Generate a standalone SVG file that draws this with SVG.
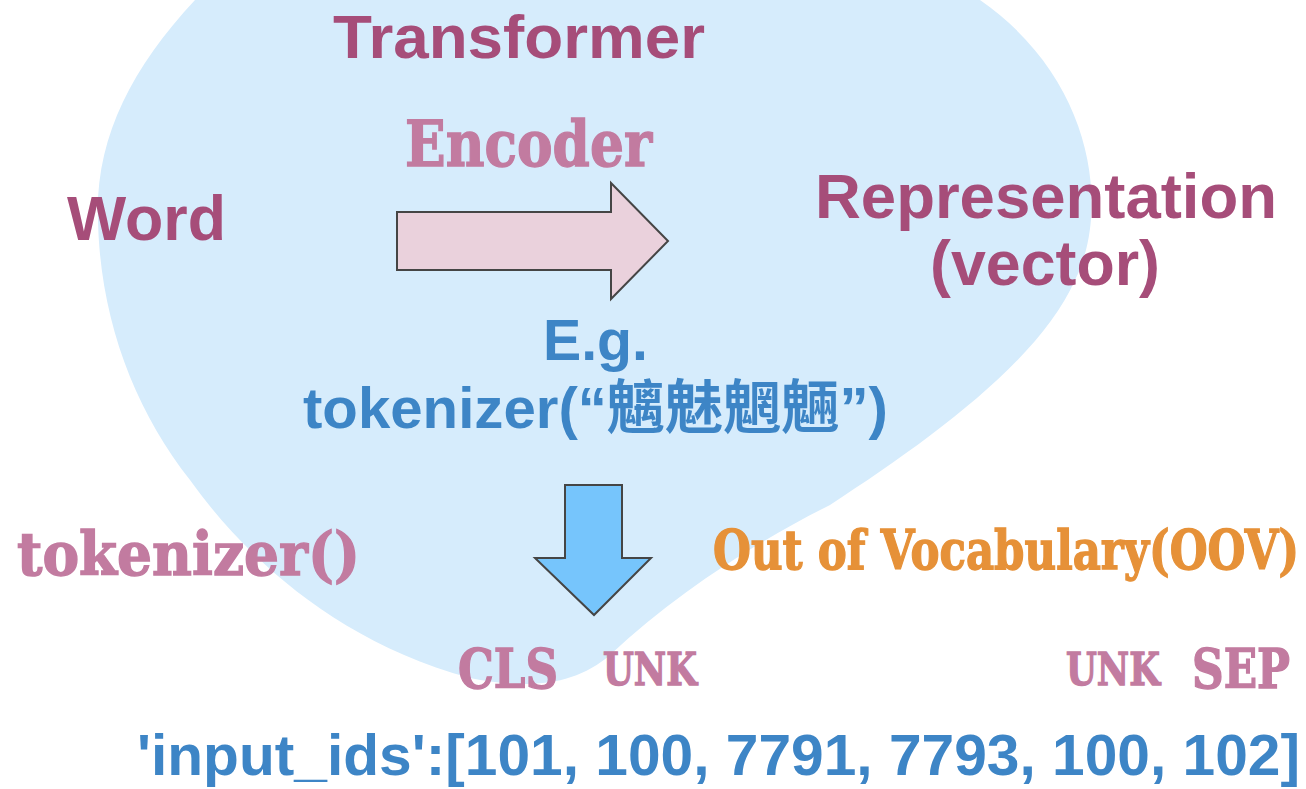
<svg xmlns="http://www.w3.org/2000/svg" width="1306" height="789" viewBox="0 0 1306 789">
  <style>
    .sans { font-family: "Liberation Sans", Arial, sans-serif; font-weight: bold; }
    .serif { font-family: "DejaVu Serif", "Liberation Serif", serif; font-weight: bold; stroke-width: 1.4; }
    .dark { fill: #a64d79; }
    .pink { fill: #c27ba0; stroke: #c27ba0; }
    .blue { fill: #3d85c6; }
    .orange { fill: #e69138; stroke: #e69138; }
    .arrow { stroke: #454545; stroke-width: 2; stroke-linejoin: miter; }
  </style>
  <rect width="1306" height="789" fill="#ffffff"/>
  <g id="blob">
    <path d="M 195 0 C 130 70 95 140 98 220 C 100 320 135 410 190 480 C 240 550 330 640 470 678 C 530 690 575 685 610 655 C 680 590 760 540 830 505 C 930 440 1040 360 1075 280 C 1110 210 1095 80 980 0 Z" fill="#d6ecfc"/>
  </g>
  <g id="connectors">
    <polygon class="arrow" points="397,212 611,212 611,183 668,241 611,299 611,270 397,270" fill="#ead1dc"/>
    <polygon class="arrow" points="565,485 622,485 622,558 651,558 594,615 535,558 565,558" fill="#76c5fc"/>
  </g>
  <g id="transformer"><text class="sans dark" x="333" y="58" font-size="62" textLength="372" lengthAdjust="spacingAndGlyphs">Transformer</text></g>
  <g id="encoder"><text class="serif pink" x="405" y="166" font-size="64" textLength="247" lengthAdjust="spacingAndGlyphs">Encoder</text></g>
  <g id="word"><text class="sans dark" x="67" y="240" font-size="63" textLength="159" lengthAdjust="spacingAndGlyphs">Word</text></g>
  <g id="representation">
    <text class="sans dark" x="815" y="218" font-size="63" textLength="462" lengthAdjust="spacingAndGlyphs">Representation</text>
    <text class="sans dark" x="930" y="285" font-size="63" textLength="230" lengthAdjust="spacingAndGlyphs">(vector)</text>
  </g>
  <g id="example">
    <text class="sans blue" x="543" y="360" font-size="57" textLength="105" lengthAdjust="spacingAndGlyphs">E.g.</text>
    <text class="blue" x="303" y="428" font-size="58" font-weight="bold" font-family="'Liberation Sans', 'Noto Sans CJK TC', sans-serif" textLength="585" lengthAdjust="spacingAndGlyphs">tokenizer(“魑魅魍魎”)</text>
  </g>
  <g id="tokenizer"><text class="serif pink" x="17" y="575" font-size="60" textLength="343" lengthAdjust="spacingAndGlyphs">tokenizer()</text></g>
  <g id="oov"><text class="serif orange" x="713" y="569" font-size="54" textLength="586" lengthAdjust="spacingAndGlyphs">Out of Vocabulary(OOV)</text></g>
  <g id="tokens">
    <text class="serif pink" x="458" y="688" font-size="54" textLength="100" lengthAdjust="spacingAndGlyphs">CLS</text>
    <text class="serif pink" x="603" y="685" font-size="45" textLength="94" lengthAdjust="spacingAndGlyphs">UNK</text>
    <text class="serif pink" x="1066" y="685" font-size="45" textLength="94" lengthAdjust="spacingAndGlyphs">UNK</text>
    <text class="serif pink" x="1192" y="688" font-size="54" textLength="98" lengthAdjust="spacingAndGlyphs">SEP</text>
  </g>
  <g id="input-ids"><text class="sans blue" x="137" y="775" font-size="58" textLength="1163" lengthAdjust="spacingAndGlyphs">'input_ids':[101, 100, 7791, 7793, 100, 102]</text></g>
</svg>
